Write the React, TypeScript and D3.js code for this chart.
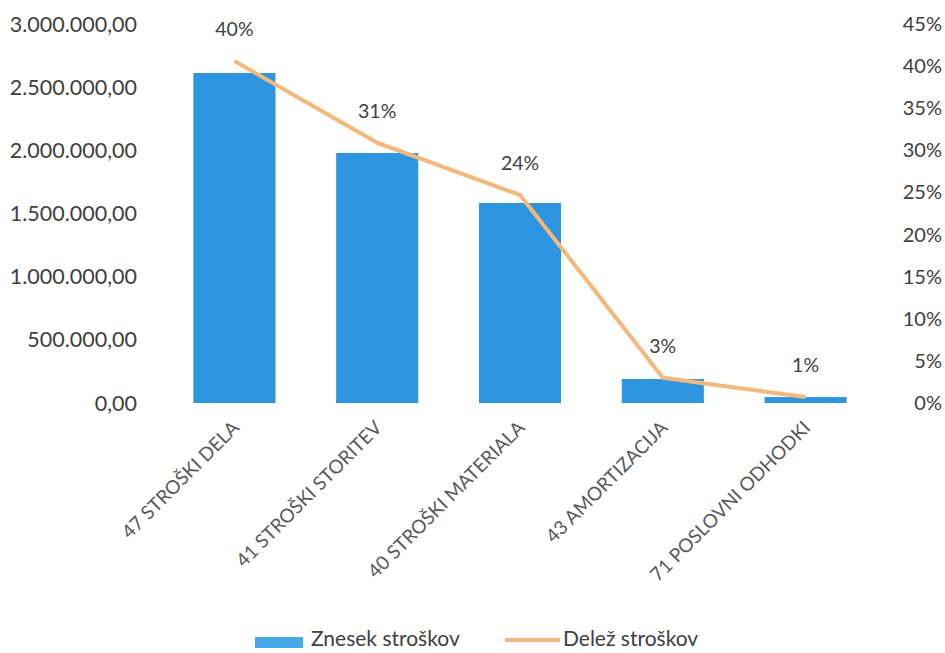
import React from "react";
import * as d3 from "d3";

const categories = ["47 STROŠKI DELA", "41 STROŠKI STORITEV", "40 STROŠKI MATERIALA", "43 AMORTIZACIJA", "71 POSLOVNI ODHODKI"];
const amounts = [2612000, 1979000, 1583000, 190000, 47000];
const shares = [0.406, 0.309, 0.247, 0.03, 0.007];
const shareLabels = ["40%", "31%", "24%", "3%", "1%"];
const leftTicks = [0, 500000, 1000000, 1500000, 2000000, 2500000, 3000000];
const rightTicks = [0, 0.05, 0.1, 0.15, 0.2, 0.25, 0.3, 0.35, 0.4, 0.45];
const legendLabels = ["Znesek stroškov", "Delež stroškov"];

const W = 945, H = 653;
const plotLeft = 163, plotRight = 877, plotTop = 24, plotBottom = 403;
const FONT = "Lato, 'Open Sans', sans-serif";

const fmtNum = (v: number) => {
  const s = d3.format(",.2f")(v);
  return s.replace(/,/g, "#").replace(/\./g, ",").replace(/#/g, ".");
};

export default function App() {
  const x = d3.scaleBand<string>().domain(categories).range([plotLeft, plotRight]).paddingInner(0.425).paddingOuter(0.2125);
  const yL = d3.scaleLinear().domain([0, 3000000]).range([plotBottom, plotTop]);
  const yR = d3.scaleLinear().domain([0, 0.45]).range([plotBottom, plotTop]);
  const line = d3.line<number>()
    .x((_, i) => (x(categories[i]) as number) + x.bandwidth() / 2)
    .y((d) => yR(d));

  return (
    <svg width={W} height={H} style={{ position: "absolute", left: 0, top: 0, background: "#fff" }}>
      <rect x={0} y={0} width={W} height={H} fill="#fff" />
      {leftTicks.map((t) => (
        <text key={"l" + t} x={137} y={yL(t)} dy="0.35em" textAnchor="end" fontFamily={FONT} fontSize={21.5} fill="#404040">
          {fmtNum(t)}
        </text>
      ))}
      {rightTicks.map((t) => (
        <text key={"r" + t} x={942} y={yR(t)} dy="0.35em" textAnchor="end" fontFamily={FONT} fontSize={20} fill="#404040">
          {d3.format(".0%")(t)}
        </text>
      ))}
      {categories.map((c, i) => (
        <rect key={c} x={x(c)} y={yL(amounts[i])} width={x.bandwidth()} height={plotBottom - yL(amounts[i])} fill="#2E95E0" />
      ))}
      <path d={line(shares) || ""} fill="none" stroke="#F5B878" strokeWidth={4} strokeLinejoin="round" />
      {categories.map((c, i) => (
        <text key={"p" + c} x={(x(c) as number) + x.bandwidth() / 2} y={yR(shares[i]) - 25} textAnchor="middle" fontFamily={FONT} fontSize={19.5} fill="#404040">
          {shareLabels[i]}
        </text>
      ))}
      {categories.map((c) => {
        const cx = (x(c) as number) + x.bandwidth() / 2 + 6;
        return (
          <text key={"c" + c} transform={`translate(${cx},${plotBottom + 26}) rotate(-45)`} textAnchor="end" fontFamily={FONT} fontSize={19} fill="#595959">
            {c}
          </text>
        );
      })}
      <rect x={255} y={637} width={48} height={11} fill="#45A8E8" />
      <text x={311} y={646} fontFamily={FONT} fontSize={21} fill="#404040">{legendLabels[0]}</text>
      <line x1={505} x2={560} y1={640} y2={640} stroke="#F5B878" strokeWidth={4} />
      <text x={563} y={646} fontFamily={FONT} fontSize={21} fill="#404040">{legendLabels[1]}</text>
    </svg>
  );
}
